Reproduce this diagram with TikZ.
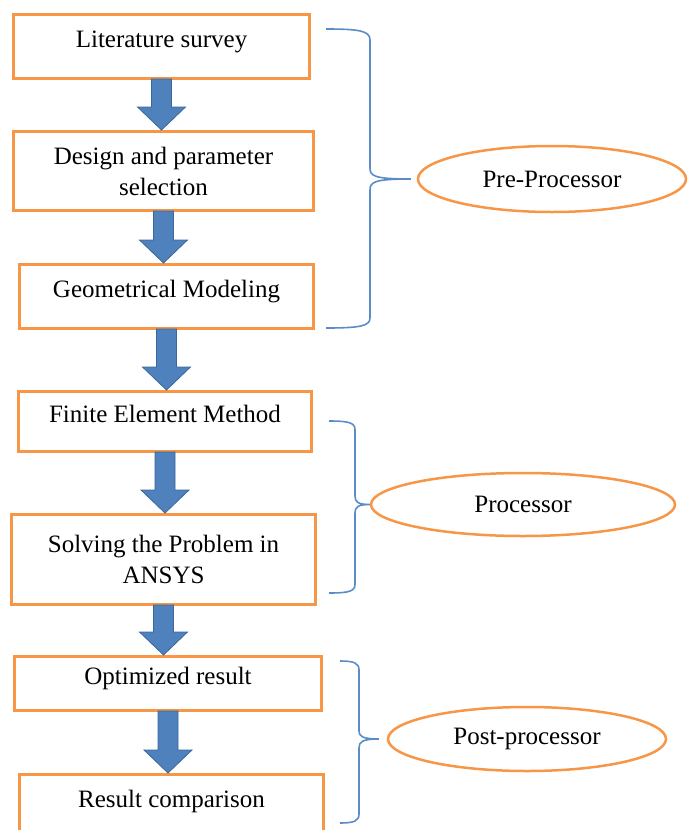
\documentclass[tikz,border=0pt]{standalone}
\usepackage{fontspec}
\setmainfont{Liberation Serif}
\usetikzlibrary{positioning, calc, shapes.geometric}
\definecolor{boxorange}{HTML}{F79646}
\definecolor{arrowblue}{HTML}{4F81BD}
\definecolor{arrowedge}{HTML}{3B679C}
\definecolor{braceblue}{HTML}{5B8CC8}
\newcommand{\flowarrow}[2]{%
  \draw[blockarrow] ($(#1.south)+(-10,1)$) -- ($(#1.south |- #2.north)+(-10,23)$)
    -- ($(#1.south |- #2.north)+(-24,23)$) -- (#1.south |- #2.north)
    -- ($(#1.south |- #2.north)+(24,23)$) -- ($(#1.south |- #2.north)+(10,23)$)
    -- ($(#1.south)+(10,1)$) -- cycle;}

\begin{document}
\begin{tikzpicture}[
  x=1pt, y=1pt,
  font=\fontsize{25}{31}\selectfont,
  stepbox/.style={draw=boxorange, line width=3pt, fill=white, align=center, inner sep=2pt},
  lifted/.style={text height=18pt, text depth=16pt},
  phase/.style={ellipse, draw=boxorange, line width=2.5pt, inner sep=0pt},
  blockarrow/.style={fill=arrowblue, draw=arrowedge, line width=0.8pt, line join=miter},
  bracket/.style={draw=braceblue, line width=1.6pt}
]
\useasboundingbox (0,0) rectangle (688,-830);
\clip (0,0) rectangle (688,-830);
\node[stepbox, lifted, minimum width=296pt, minimum height=64pt] (survey) at (161.5,-46.5) {Literature survey};
\node[stepbox, below=50pt of survey, xshift=2pt, minimum width=300pt, minimum height=79pt] (design) {Design and parameter\\selection};
\node[stepbox, lifted, below=51pt of design, xshift=3pt, minimum width=294pt, minimum height=64pt] (geom) {Geometrical Modeling};
\node[stepbox, lifted, below=60pt of geom, xshift=-1.5pt, minimum width=293pt, minimum height=60pt] (fem) {Finite Element Method};
\node[stepbox, below=60pt of fem, xshift=-1.5pt, minimum width=304pt, minimum height=90pt] (ansys) {Solving the Problem in\\ANSYS};
\node[stepbox, lifted, below=49pt of ansys, xshift=4.5pt, minimum width=307pt, minimum height=54pt] (optim) {Optimized result};
\node[stepbox, lifted, below=61pt of optim, xshift=3.5pt, minimum width=304pt, minimum height=64pt] (compare) {Result comparison};
\flowarrow{survey}{design}
\flowarrow{design}{geom}
\flowarrow{geom}{fem}
\flowarrow{fem}{ansys}
\flowarrow{ansys}{optim}
\flowarrow{optim}{compare}
\node[phase, minimum width=268pt, minimum height=66pt] (pre) at (552,-179) {Pre-Processor};
\node[phase, minimum width=304pt, minimum height=63pt] (proc) at (523,-504.5) {Processor};
\node[phase, minimum width=278pt, minimum height=64pt] (post) at (527,-739) {Post-processor};
\coordinate (pretop) at (326,-29);
\coordinate (prebot) at (326,-328);
\coordinate (proctop) at (329,-421);
\coordinate (procbot) at (329,-593);
\coordinate (posttop) at (340,-661);
\coordinate (postbot) at (340,-823);
\draw[bracket] (pretop) .. controls (360,-29) and (370,-31) .. (370,-40) -- (370,-168)
  .. controls (370,-176) and (374,-179) .. ([xshift=-6pt]pre.west)
  .. controls (374,-179) and (370,-182) .. (370,-190) -- (370,-318)
  .. controls (370,-326) and (360,-328) .. (prebot);
\draw[bracket] (proctop) .. controls (350,-421) and (355,-423) .. (355,-430) -- (355,-496)
  .. controls (355,-502) and (358,-504.5) .. (proc.west)
  .. controls (358,-504.5) and (355,-507) .. (355,-513) -- (355,-584)
  .. controls (355,-591) and (350,-593) .. (procbot);
\draw[bracket] (posttop) .. controls (354,-661) and (359,-663) .. (359,-670) -- (359,-731)
  .. controls (359,-736) and (362,-739) .. ([xshift=-8pt]post.west)
  .. controls (362,-739) and (359,-742) .. (359,-748) -- (359,-814)
  .. controls (359,-821) and (354,-823) .. (postbot);
\end{tikzpicture}
\end{document}
